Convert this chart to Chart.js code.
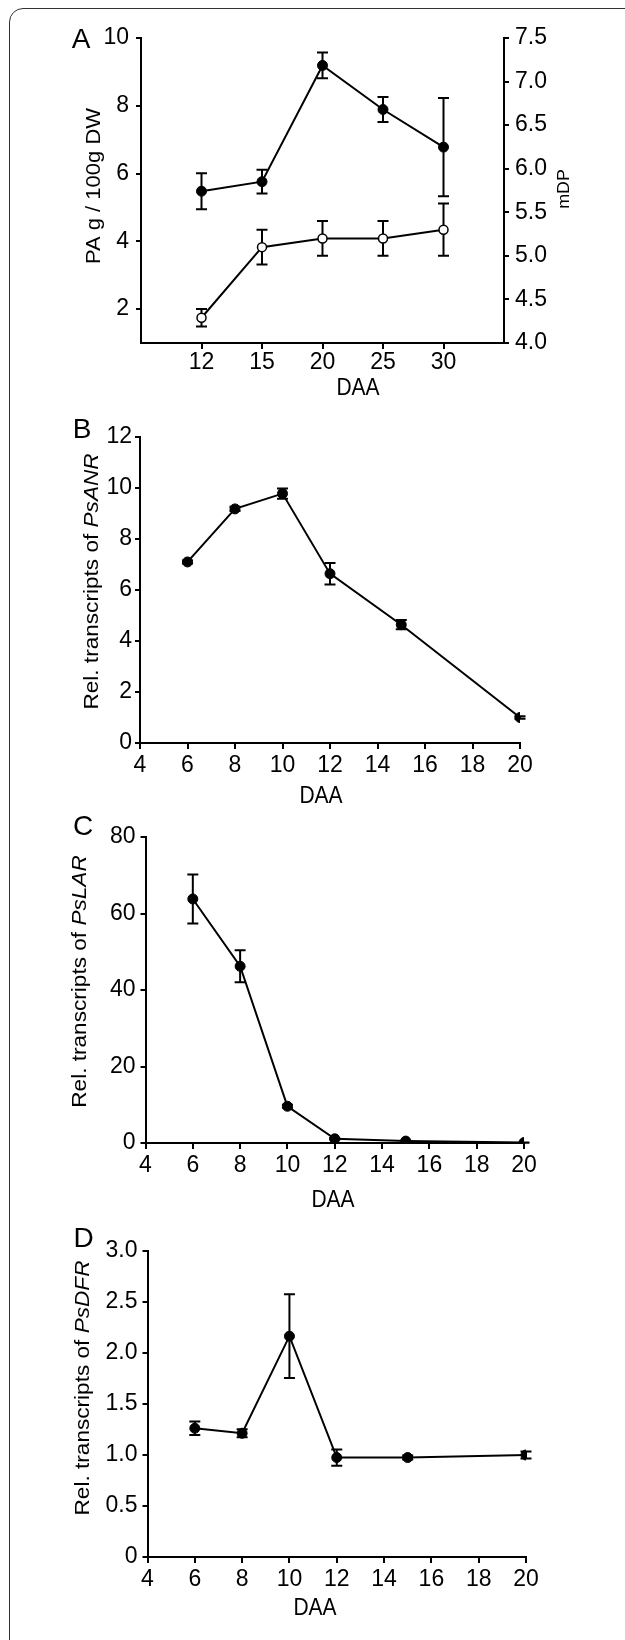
<!DOCTYPE html>
<html><head><meta charset="utf-8">
<script src="https://cdn.jsdelivr.net/npm/chart.js@4.4.1/dist/chart.umd.min.js"></script>
<style>
html,body{margin:0;padding:0;background:#fff;}
body{width:625px;height:1640px;position:relative;overflow:hidden;}
#frame{position:absolute;left:9px;top:8px;width:720px;height:1700px;border:1.5px solid #333;border-radius:14px;box-sizing:border-box;}
canvas{position:absolute;left:0;}
</style></head><body>
<div id="frame"></div>
<canvas id="cA" width="625" height="410" style="top:0px;width:625px;height:410px"></canvas>
<canvas id="cB" width="625" height="400" style="top:410px;width:625px;height:400px"></canvas>
<canvas id="cC" width="625" height="405" style="top:810px;width:625px;height:405px"></canvas>
<canvas id="cD" width="625" height="425" style="top:1215px;width:625px;height:425px"></canvas>
<script>
// ---------- data ----------
const A_DAA = ['12', '15', '20', '25', '30'];
const A_PA = [5.48, 5.76, 9.19, 7.89, 6.78];
const A_PA_ERR = [0.53, 0.35, 0.38, 0.37, 1.45];
const A_MDP = [4.29, 5.10, 5.20, 5.20, 5.30];
const A_MDP_ERR = [0.10, 0.20, 0.20, 0.20, 0.30];
const A_LEFT_TICKS = [2, 4, 6, 8, 10];
const A_RIGHT_TICKS = [4.0, 4.5, 5.0, 5.5, 6.0, 6.5, 7.0, 7.5];

const GENE_DAA = [6, 8, 10, 12, 15, 20];
const GENE_X_TICKS = [4, 6, 8, 10, 12, 14, 16, 18, 20];

const B_ANR = [7.10, 9.18, 9.78, 6.64, 4.64, 1.00];
const B_ANR_ERR = [0.06, 0.08, 0.20, 0.42, 0.18, 0.05];
const B_Y_TICKS = [0, 2, 4, 6, 8, 10, 12];

const C_LAR = [63.8, 46.2, 9.6, 1.1, 0.5, 0.1];
const C_LAR_ERR = [6.4, 4.2, 0.4, 0.2, 0.1, 0.05];
const C_Y_TICKS = [0, 20, 40, 60, 80];

const D_DFR = [1.262, 1.213, 2.165, 0.975, 0.975, 1.00];
const D_DFR_ERR = [0.066, 0.04, 0.41, 0.08, 0.02, 0.035];
const D_Y_TICKS = [0, 0.5, 1.0, 1.5, 2.0, 2.5, 3.0];

const FONT = '"Liberation Sans", Arial, Helvetica, sans-serif';
const TICK_FONT = '"Liberation Sans Narrow", "Liberation Sans", Arial, sans-serif';
const TICK_SIZE = 23;

// ---------- plugins ----------
const errorBarPlugin = {
  id: 'errorBars',
  beforeDatasetsDraw(chart) {
    const ctx = chart.ctx;
    chart.data.datasets.forEach((ds, i) => {
      if (!ds.errors) return;
      const meta = chart.getDatasetMeta(i);
      const xs = chart.scales[meta.xAxisID], ys = chart.scales[meta.yAxisID];
      ctx.save();
      ctx.strokeStyle = '#000';
      ctx.lineWidth = 2;
      ds.data.forEach((p, j) => {
        const e = ds.errors[j];
        const x = xs.getPixelForValue(p.x);
        const yt = ys.getPixelForValue(p.y + e), yb = ys.getPixelForValue(p.y - e);
        ctx.beginPath();
        ctx.moveTo(x, yt); ctx.lineTo(x, yb);
        ctx.moveTo(x - 5.5, yt); ctx.lineTo(x + 5.5, yt);
        ctx.moveTo(x - 5.5, yb); ctx.lineTo(x + 5.5, yb);
        ctx.stroke();
      });
      ctx.restore();
    });
  }
};

// free text: (x,y) = baseline centre; stretch = vertical (page) stretch factor
function textPlugin(items) {
  return {
    id: 'freeText',
    afterDraw(chart) {
      const ctx = chart.ctx;
      items.forEach(it => {
        ctx.save();
        ctx.translate(it.x, it.y);
        ctx.scale(1, it.stretch || 1);
        if (it.rotate) ctx.rotate(it.rotate);
        ctx.fillStyle = '#000';
        ctx.textBaseline = 'alphabetic';
        ctx.textAlign = 'left';
        const fontFor = p => (p.italic ? 'italic ' : '') + it.size + 'px ' + FONT;
        let total = 0;
        it.parts.forEach(p => { ctx.font = fontFor(p); total += ctx.measureText(p.text).width; });
        let x = -total / 2;
        it.parts.forEach(p => { ctx.font = fontFor(p); ctx.fillText(p.text, x, 0); x += ctx.measureText(p.text).width; });
        ctx.restore();
      });
    }
  };
}

function axisX(min, max, ticks, height, pad, cb) {
  return {
    type: 'linear', min: min, max: max,
    afterBuildTicks: s => { s.ticks = ticks.map(v => ({ value: v })); },
    afterFit: s => { s.height = height; },
    grid: { drawOnChartArea: false, drawTicks: true, tickLength: 6, color: '#000', lineWidth: 2 },
    border: { display: true, color: '#000', width: 2 },
    ticks: { font: { size: TICK_SIZE, family: TICK_FONT }, color: '#000', padding: pad, maxRotation: 0, autoSkip: false, callback: cb }
  };
}
function axisY(pos, min, max, ticks, width, pad, cb) {
  return {
    type: 'linear', position: pos, min: min, max: max,
    afterBuildTicks: s => { s.ticks = ticks.map(v => ({ value: v })); },
    afterFit: s => { s.width = width; },
    grid: { drawOnChartArea: false, drawTicks: true, tickLength: 5, color: '#000', lineWidth: 2 },
    border: { display: true, color: '#000', width: 2 },
    ticks: { font: { size: TICK_SIZE, family: TICK_FONT }, color: '#000', padding: pad, autoSkip: false, callback: cb }
  };
}
function filledSeries(xs, ys, errs, yAxisID) {
  return {
    data: xs.map((x, i) => ({ x: x, y: ys[i] })), errors: errs, yAxisID: yAxisID || 'y',
    borderColor: '#000', borderWidth: 2, tension: 0,
    pointRadius: 5, pointBackgroundColor: '#000', pointBorderColor: '#000', pointBorderWidth: 1
  };
}
const baseOpts = (padding) => ({
  responsive: false, animation: false, devicePixelRatio: 1,
  layout: { padding: padding },
  plugins: { legend: { display: false }, tooltip: { enabled: false } }
});
const fmt1 = v => (v === 0 ? '0' : v.toFixed(1));
const fmt0 = v => String(v);

// ---------- Panel A ----------
const aPos = A_DAA.map((_, i) => i + 1);
const openSeries = {
  data: aPos.map((x, i) => ({ x: x, y: A_MDP[i] })), errors: A_MDP_ERR, yAxisID: 'y2',
  borderColor: '#000', borderWidth: 2, tension: 0,
  pointRadius: 4.5, pointBackgroundColor: '#fff', pointBorderColor: '#000', pointBorderWidth: 1.5
};
new Chart(document.getElementById('cA'), {
  type: 'line',
  data: { datasets: [filledSeries(aPos, A_PA, A_PA_ERR, 'y'), openSeries] },
  options: Object.assign(baseOpts({ top: 38, left: 0, right: 0, bottom: 0 }), {
    scales: {
      x: axisX(0, 6, aPos, 67, 0, v => A_DAA[v - 1]),
      y: axisY('left', 1, 10, A_LEFT_TICKS, 141, 7, fmt0),
      y2: axisY('right', 4, 7.5, A_RIGHT_TICKS, 121, 6, v => v.toFixed(1))
    }
  }),
  plugins: [errorBarPlugin, textPlugin([
    { parts: [{ text: 'A' }], x: 81, y: 48, size: 28 },
    { parts: [{ text: 'PA g / 100g DW' }], x: 99.5, y: 186, size: 20, stretch: 1.1, rotate: -Math.PI / 2 },
    { parts: [{ text: 'mDP' }], x: 569, y: 189, size: 17, stretch: 1.05, rotate: -Math.PI / 2 },
    { parts: [{ text: 'DAA' }], x: 358, y: 395, size: 21, stretch: 1.1 }
  ])]
});

// ---------- Panels B, C, D ----------
function genePanel(id, top, values, errs, yTicks, yMax, leftW, rightPad, topPad, xH, yPad, fmt, gene, letter, letterPos, titlePos, daaPos) {
  new Chart(document.getElementById(id), {
    type: 'line',
    data: { datasets: [filledSeries(GENE_DAA, values, errs, 'y')] },
    options: Object.assign(baseOpts({ top: topPad, left: 0, right: rightPad, bottom: 0 }), {
      scales: {
        x: axisX(4, 20, GENE_X_TICKS, xH, 3, fmt0),
        y: axisY('left', 0, yMax, yTicks, leftW, yPad, fmt)
      }
    }),
    plugins: [errorBarPlugin, textPlugin([
      { parts: [{ text: letter }], x: letterPos[0], y: letterPos[1] - top, size: 28 },
      { parts: [{ text: 'Rel. transcripts of ' }, { text: gene, italic: true }], x: titlePos[0], y: titlePos[1] - top, size: 20, stretch: 1.13, rotate: -Math.PI / 2 },
      { parts: [{ text: 'DAA' }], x: daaPos[0], y: daaPos[1] - top, size: 21, stretch: 1.1 }
    ])]
  });
}
genePanel('cB', 410, B_ANR, B_ANR_ERR, B_Y_TICKS, 12, 140, 105, 27, 67, 3, fmt0, 'PsANR', 'B', [82, 438], [97.5, 581.5], [321, 803]);
genePanel('cC', 810, C_LAR, C_LAR_ERR, C_Y_TICKS, 80, 145.5, 101, 27, 72, 5, fmt0, 'PsLAR', 'C', [83, 835], [86, 981.5], [333, 1207]);
genePanel('cD', 1215, D_DFR, D_DFR_ERR, D_Y_TICKS, 3, 147.5, 99, 36, 83, 5, fmt1, 'PsDFR', 'D', [83.5, 1246.5], [89, 1388], [315, 1615]);
</script>
</body></html>
